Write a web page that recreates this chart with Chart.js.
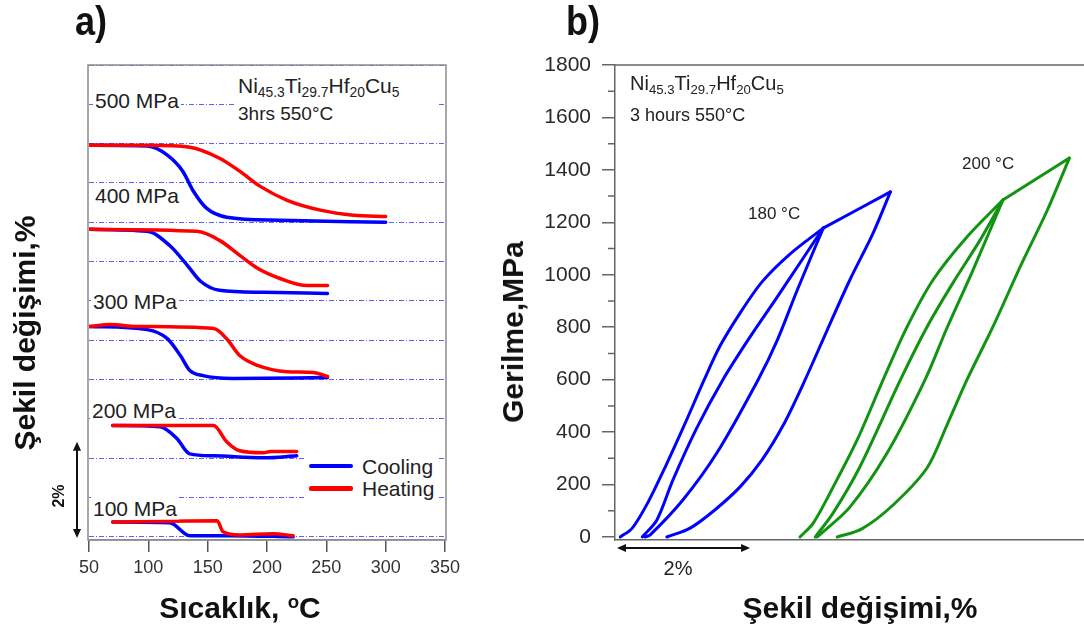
<!DOCTYPE html>
<html><head><meta charset="utf-8">
<script src="https://cdn.jsdelivr.net/npm/chart.js@4.4.0/dist/chart.umd.min.js"></script>
<style>
html,body{margin:0;padding:0;background:#fff;}
#wrap{position:relative;width:1084px;height:633px;overflow:hidden;background:#fff;font-family:"Liberation Sans",Arial,sans-serif;color:#222;}
canvas{position:absolute;top:0;}
.t{position:absolute;white-space:nowrap;line-height:1;}
.c{transform:translate(-50%,-50%);}
.ml{transform:translateY(-50%);}
.rot{transform:translate(-50%,-50%) rotate(-90deg);}
.b{font-weight:bold;}
.bg{background:#fff;}
.box{position:absolute;background:#fff;}
sub{font-size:0.66em;vertical-align:-0.3em;line-height:0;}
.lab{font-weight:bold;color:#111;transform-origin:left top;transform:scaleX(0.88);}
</style></head>
<body><div id="wrap">
<canvas id="ca" width="540" height="633" style="left:0"></canvas>
<canvas id="cb" width="544" height="633" style="left:540px"></canvas>

<div class="t lab" style="left:75px;top:1px;font-size:41px">a)</div>
<div class="t lab" style="left:566px;top:1px;font-size:41px">b)</div>

<div class="t b rot" style="left:25px;top:333px;font-size:30px;color:#111">Şekil değişimi,%</div>
<div class="t b rot" style="left:59px;top:496px;font-size:16px;color:#111">2%</div>
<div class="t b c" style="left:240px;top:608px;font-size:30px;color:#111">Sıcaklık, <sup style="font-size:0.62em;vertical-align:0.55em;line-height:0">o</sup>C</div>

<div class="t ml bg" style="left:93px;top:100px;font-size:21px;padding:1px 2px">500 MPa</div>
<div class="t ml bg" style="left:93px;top:195px;font-size:21px;padding:1px 2px">400 MPa</div>
<div class="t ml bg" style="left:91px;top:301px;font-size:21px;padding:1px 2px">300 MPa</div>
<div class="t ml bg" style="left:90px;top:410px;font-size:21px;padding:1px 2px">200 MPa</div>
<div class="t ml bg" style="left:91px;top:508px;font-size:21px;padding:1px 2px">100 MPa</div>

<div class="box" style="left:235px;top:72px;width:202px;height:52px"></div>
<div class="t ml" style="left:238px;top:85px;font-size:21px">Ni<sub>45.3</sub>Ti<sub>29.7</sub>Hf<sub>20</sub>Cu<sub>5</sub></div>
<div class="t ml" style="left:238px;top:113px;font-size:19px">3hrs 550°C</div>

<div class="box" style="left:305px;top:453px;width:133px;height:47px"></div>
<div style="position:absolute;left:309px;top:464px;width:44px;height:4px;background:#0000ff;border-radius:2px"></div>
<div style="position:absolute;left:309px;top:486px;width:44px;height:5px;background:#ff0000;border-radius:2px"></div>
<div class="t ml" style="left:362px;top:466px;font-size:21px">Cooling</div>
<div class="t ml" style="left:362px;top:488px;font-size:21px">Heating</div>

<div class="t b rot" style="left:513px;top:332px;font-size:30px;color:#111">Gerilme,MPa</div>
<div class="t ml" style="left:630px;top:83px;font-size:20px">Ni<sub>45.3</sub>Ti<sub>29.7</sub>Hf<sub>20</sub>Cu<sub>5</sub></div>
<div class="t ml" style="left:630px;top:115px;font-size:18px">3 hours 550°C</div>
<div class="t ml" style="left:748px;top:213px;font-size:17px">180 °C</div>
<div class="t ml" style="left:962px;top:163px;font-size:17px">200 °C</div>
<div class="t c" style="left:678px;top:568px;font-size:20px">2%</div>
<div class="t b c" style="left:860px;top:608px;font-size:30px;color:#111">Şekil değişimi,%</div>
</div>
<script>
// ---------- Panel a data: temperature (°C) vs strain (offset, % units) ----------
const tempTicks = [50, 100, 150, 200, 250, 300, 350];
const T_cool500 = [50, 99, 116, 129, 138, 149, 166, 211, 300];
const S_cool500 = [9.96, 9.94, 9.71, 9.30, 8.79, 8.36, 8.13, 8.05, 8.00];
const T_heat500 = [50, 100, 135, 160, 177, 194, 217, 245, 273, 300];
const S_heat500 = [9.96, 9.96, 9.91, 9.63, 9.30, 8.92, 8.56, 8.31, 8.18, 8.15];
const T_cool400 = [50, 99, 118, 133, 144, 160, 197, 251];
const S_cool400 = [7.82, 7.77, 7.41, 6.90, 6.50, 6.27, 6.22, 6.19];
const T_heat400 = [50, 141, 160, 177, 192, 211, 234, 251];
const S_heat400 = [7.82, 7.77, 7.54, 7.16, 6.83, 6.57, 6.39, 6.39];
const T_cool300 = [50, 99, 116, 127, 135, 146, 171, 251];
const S_cool300 = [5.35, 5.27, 5.04, 4.61, 4.23, 4.10, 4.03, 4.05];
const T_heat300 = [50, 68, 90, 155, 166, 177, 192, 217, 239, 251];
const S_heat300 = [5.35, 5.40, 5.35, 5.30, 5.04, 4.61, 4.36, 4.20, 4.18, 4.08];
const T_cool200 = [70, 110, 124, 135, 155, 197, 225];
const S_cool200 = [2.83, 2.80, 2.50, 2.11, 2.06, 2.01, 2.06];
const T_heat200 = [70, 155, 166, 177, 197, 203, 225];
const S_heat200 = [2.83, 2.83, 2.42, 2.19, 2.14, 2.17, 2.17];
const T_cool100 = [70, 118, 135, 169, 222];
const S_cool100 = [0.38, 0.36, 0.03, 0.03, 0.00];
const T_heat100 = [70, 158, 163, 177, 205, 222];
const S_heat100 = [0.38, 0.41, 0.13, 0.05, 0.08, 0.03];
const gridLevelsA = [0,1,2,3,4,5,6,7,8,9,10,11,12];
const scaleBarA = [-0.03, 2.42];

// ---------- Panel b data: strain (%) vs stress (MPa) ----------
const stressTicks = [0, 200, 400, 600, 800, 1000, 1200, 1400, 1600, 1800];
const stressMinor = [100, 300, 500, 700, 900, 1100, 1300, 1500, 1700];
const e180_1 = [0.08, 0.26, 0.50, 0.77, 1.05, 1.34, 1.58, 1.88, 2.21, 2.63, 3.13];
const s180_1 = [0, 34, 134, 275, 431, 599, 729, 854, 973, 1079, 1178];
const e180_2 = [0.41, 0.63, 0.87, 1.23, 1.62, 2.03, 2.44, 2.78, 3.13];
const s180_2 = [0, 65, 217, 416, 599, 763, 916, 1045, 1178];
const e180_3 = [0.45, 0.53, 1.02, 1.53, 2.15, 2.44, 2.74, 3.13];
const s180_3 = [0, 8, 141, 320, 599, 751, 942, 1178];
const e180_4 = [0.78, 1.13, 1.50, 1.88, 2.21, 2.53, 2.83, 3.19, 3.53, 3.88, 4.14];
const s180_4 = [0, 34, 103, 191, 294, 427, 584, 789, 980, 1159, 1316];
const e180_5 = [3.13, 4.14];
const s180_5 = [1178, 1316];
const e200_1 = [2.78, 2.98, 3.28, 3.64, 4.03, 4.39, 4.78, 5.29, 5.83];
const s200_1 = [0, 53, 191, 370, 599, 801, 980, 1144, 1285];
const e200_2 = [3.01, 3.28, 3.68, 4.29, 4.69, 5.08, 5.49, 5.83];
const s200_2 = [0, 92, 267, 599, 801, 969, 1133, 1285];
const e200_3 = [3.04, 3.53, 4.09, 4.66, 4.99, 5.37, 5.83];
const s200_3 = [0, 114, 320, 599, 797, 1011, 1285];
const e200_4 = [3.34, 3.71, 4.18, 4.69, 4.99, 5.29, 5.68, 6.09, 6.50, 6.83];
const s200_4 = [0, 31, 122, 263, 427, 599, 801, 1030, 1247, 1445];
const e200_5 = [5.83, 6.83];
const s200_5 = [1285, 1445];
const scaleBarB = [0.03, 2.03];

const BLUE = '#0000ff', RED = '#ff0000', GREEN = '#129412';
Chart.defaults.font.family = '"Liberation Sans", Arial, sans-serif';

function pts(xs, ys) { return xs.map((x, i) => ({x: x, y: ys[i]})); }
function line(xs, ys, color, w, mono) {
  const d = {data: pts(xs, ys), showLine: true, borderColor: color, backgroundColor: color,
    borderWidth: w, pointRadius: 0, borderCapStyle: 'round', borderJoinStyle: 'round', fill: false};
  if (mono) d.cubicInterpolationMode = 'monotone'; else d.tension = 0.3;
  return d;
}
function arrowHead(ctx, x, y, dx, dy, size) {
  const L = Math.hypot(dx, dy), ux = dx / L, uy = dy / L;
  ctx.beginPath();
  ctx.moveTo(x, y);
  ctx.lineTo(x - ux * size - uy * size * 0.45, y - uy * size + ux * size * 0.45);
  ctx.lineTo(x - ux * size + uy * size * 0.45, y - uy * size - ux * size * 0.45);
  ctx.closePath(); ctx.fill();
}

// ---------- Panel a ----------
const frameA = {
  id: 'frameA',
  afterDraw(chart) {
    const {ctx, chartArea: a, scales: {y}} = chart;
    ctx.save();
    ctx.strokeStyle = '#8c8c8c'; ctx.lineWidth = 1.5;
    ctx.strokeRect(a.left - 1, a.top, a.right - a.left + 2, a.bottom - a.top);
    const x = 77, yb = y.getPixelForValue(scaleBarA[0]), yt = y.getPixelForValue(scaleBarA[1]);
    ctx.strokeStyle = '#111'; ctx.fillStyle = '#111'; ctx.lineWidth = 2;
    ctx.beginPath(); ctx.moveTo(x, yt + 6); ctx.lineTo(x, yb - 6); ctx.stroke();
    arrowHead(ctx, x, yt, 0, -1, 9);
    arrowHead(ctx, x, yb, 0, 1, 9);
    ctx.restore();
  }
};
const dsA = [
  line(T_heat500, S_heat500, RED, 3.5, true), line(T_heat400, S_heat400, RED, 3.5, true),
  line(T_heat300, S_heat300, RED, 3.5, true), line(T_heat200, S_heat200, RED, 3.5, true),
  line(T_heat100, S_heat100, RED, 3.5, true),
  line(T_cool500, S_cool500, BLUE, 3.5, true), line(T_cool400, S_cool400, BLUE, 3.5, true),
  line(T_cool300, S_cool300, BLUE, 3.5, true), line(T_cool200, S_cool200, BLUE, 3.5, true),
  line(T_cool100, S_cool100, BLUE, 3.5, true)
];
new Chart(document.getElementById('ca'), {
  type: 'scatter',
  data: {datasets: dsA},
  options: {
    responsive: false, animation: false, events: [],
    layout: {padding: {left: 89, right: 95, top: 65, bottom: 0}},
    plugins: {legend: {display: false}, tooltip: {enabled: false}},
    scales: {
      x: {type: 'linear', min: 50, max: 350,
        afterBuildTicks(s) { s.ticks = tempTicks.map(v => ({value: v})); },
        ticks: {font: {size: 18}, color: '#333', padding: 5, maxRotation: 0, autoSkip: false},
        grid: {drawOnChartArea: false, tickLength: 12, color: '#555', tickColor: '#555', lineWidth: 1.5},
        border: {display: true, color: '#8c8c8c', width: 1.5},
        afterFit(s) { s.height = 93; }
      },
      y: {type: 'linear', min: -0.08, max: 12,
        afterBuildTicks(s) { s.ticks = gridLevelsA.map(v => ({value: v})); },
        ticks: {display: false},
        grid: {drawTicks: false, color: 'rgb(95,95,255)', lineWidth: 1},
        border: {display: false, dash: [5, 2, 1, 2]},
        afterFit(s) { s.width = 0; }
      }
    }
  },
  plugins: [frameA]
});

// ---------- Panel b ----------
const frameB = {
  id: 'frameB',
  afterDraw(chart) {
    const {ctx, chartArea: a, scales: {x, y}} = chart;
    ctx.save();
    ctx.strokeStyle = '#666'; ctx.lineWidth = 1.5;
    ctx.beginPath(); ctx.moveTo(a.left, a.top); ctx.lineTo(a.right, a.top); ctx.stroke();
    ctx.beginPath();
    stressMinor.forEach(v => { const py = y.getPixelForValue(v); ctx.moveTo(a.left - 7, py); ctx.lineTo(a.left, py); });
    ctx.stroke();
    const yy = a.bottom + 8, x0 = x.getPixelForValue(scaleBarB[0]), x1 = x.getPixelForValue(scaleBarB[1]);
    ctx.strokeStyle = '#111'; ctx.fillStyle = '#111'; ctx.lineWidth = 1.8;
    ctx.beginPath(); ctx.moveTo(x0 + 6, yy); ctx.lineTo(x1 - 6, yy); ctx.stroke();
    arrowHead(ctx, x0, yy, -1, 0, 9);
    arrowHead(ctx, x1, yy, 1, 0, 9);
    ctx.restore();
  }
};
const dsB = [
  line(e180_1, s180_1, BLUE, 3), line(e180_2, s180_2, BLUE, 3), line(e180_3, s180_3, BLUE, 3),
  line(e180_4, s180_4, BLUE, 3), line(e180_5, s180_5, BLUE, 3),
  line(e200_1, s200_1, GREEN, 3), line(e200_2, s200_2, GREEN, 3), line(e200_3, s200_3, GREEN, 3),
  line(e200_4, s200_4, GREEN, 3), line(e200_5, s200_5, GREEN, 3)
];
new Chart(document.getElementById('cb'), {
  type: 'scatter',
  data: {datasets: dsB},
  options: {
    responsive: false, animation: false, events: [],
    layout: {padding: {left: 0, right: 0, top: 65, bottom: 93}},
    plugins: {legend: {display: false}, tooltip: {enabled: false}},
    scales: {
      x: {type: 'linear', min: 0, max: 7.05,
        ticks: {display: false},
        grid: {display: false},
        border: {display: true, color: '#666', width: 1.5},
        afterFit(s) { s.height = 0; }
      },
      y: {type: 'linear', min: -11.5, max: 1800,
        afterBuildTicks(s) { s.ticks = stressTicks.map(v => ({value: v})); },
        ticks: {font: {size: 21}, color: '#2a2a2a', padding: 11, autoSkip: false,
          callback: v => String(v)},
        grid: {drawOnChartArea: false, tickLength: 13, color: '#666', tickColor: '#666', lineWidth: 1.5},
        border: {display: true, color: '#666', width: 1.5},
        afterFit(s) { s.width = 75; }
      }
    }
  },
  plugins: [frameB]
});
</script>
</body></html>
